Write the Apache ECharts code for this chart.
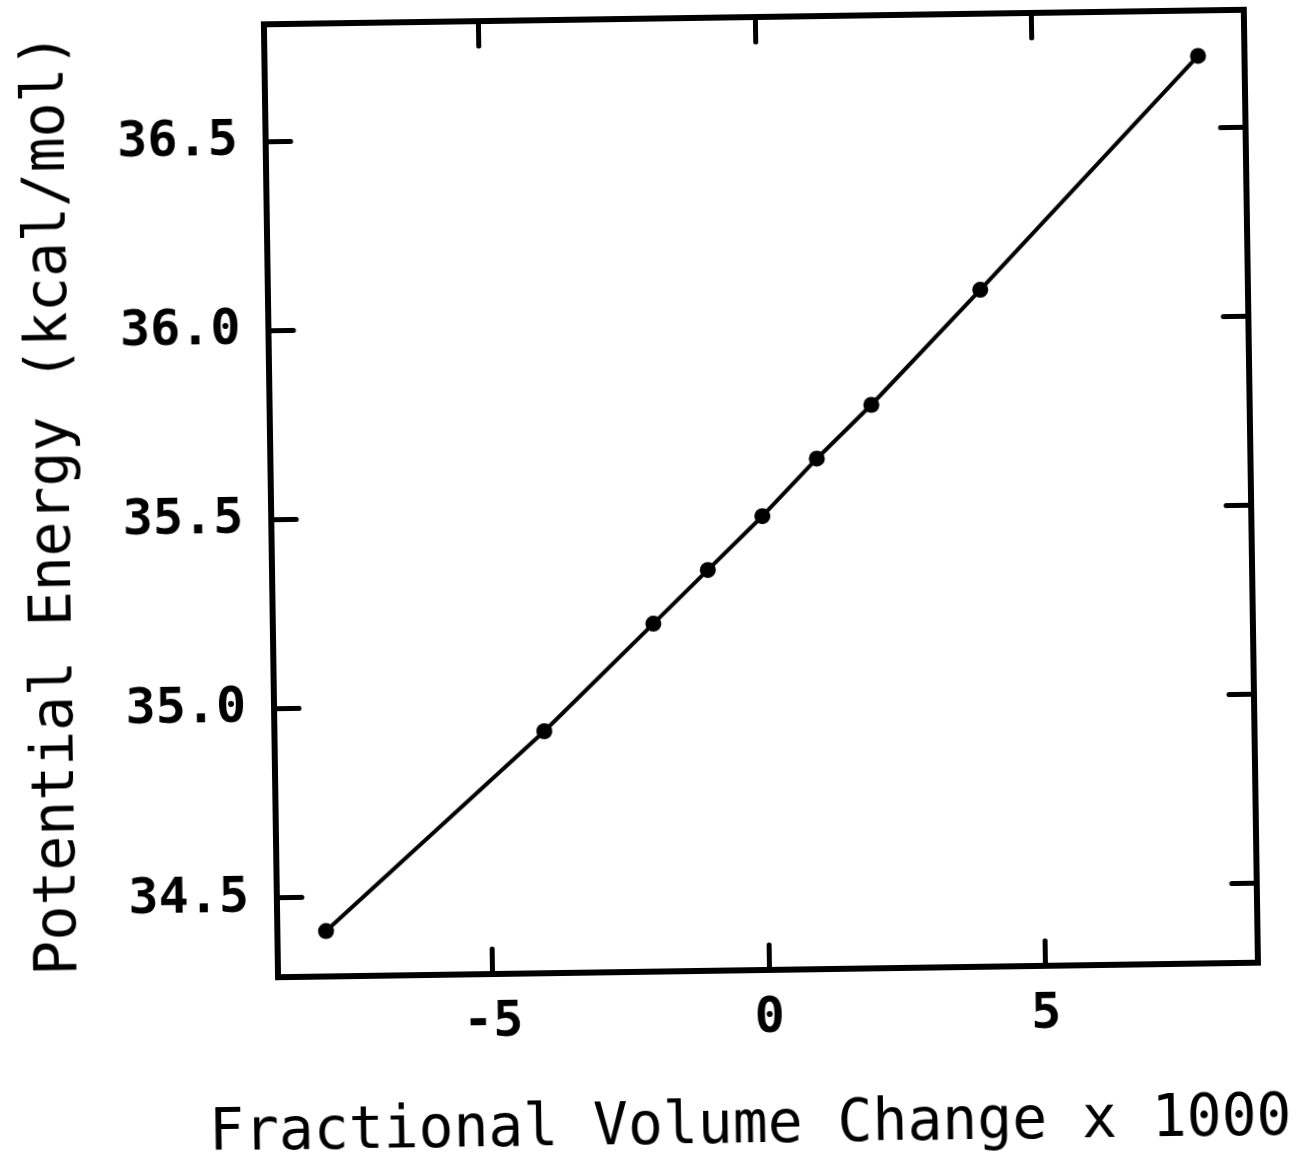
<!DOCTYPE html>
<html>
<head>
<meta charset="utf-8">
<script src="https://cdn.jsdelivr.net/npm/echarts@6/dist/echarts.min.js"></script>
<style>
  html, body { margin: 0; padding: 0; background: #fff; }
  #chart {
    width: 1306px; height: 1161px;
    /* the plotted sheet sits slightly askew */
    transform: rotate(-0.85deg);
    transform-origin: 761px 499px;
  }
</style>
</head>
<body>
<div id="chart"></div>
<script>
// Fractional volume change (x1000) and potential energy (kcal/mol)
const volumeChange = [-8, -4, -2, -1, 0, 1, 2, 4, 8];
const potentialEnergy = [34.41, 34.93, 35.21, 35.35, 35.49, 35.64, 35.78, 36.08, 36.69];
const xTicks = [-5, 0, 5];
const yTicks = [34.5, 35.0, 35.5, 36.0, 36.5];

const FONT = '"DejaVu Sans Mono", monospace';
const INK = '#000';

const points = volumeChange.map((v, i) => [v, potentialEnergy[i]]);

const frameLine = () => ({ show: true, onZero: false, lineStyle: { color: INK, width: 6, cap: 'square' } });
const tickStyle = (values) => ({
  show: true, inside: true, length: 25, customValues: values,
  lineStyle: { color: INK, width: 5, cap: 'round' }
});

const chart = echarts.init(document.getElementById('chart'), null, { renderer: 'canvas' });
chart.setOption({
  animation: false,
  backgroundColor: '#fff',
  grid: { left: 271, top: 17, width: 980, height: 964, containLabel: false },
  xAxis: [
    {
      type: 'value', position: 'bottom', min: -8.88, max: 8.84,
      axisLine: frameLine(), axisTick: tickStyle(xTicks), splitLine: { show: false },
      axisLabel: {
        customValues: xTicks, margin: 24,
        fontFamily: FONT, fontSize: 50, fontWeight: 'bold', color: INK
      },
      name: 'Fractional Volume Change x 1000',
      nameLocation: 'middle', nameGap: 128,
      nameTextStyle: { fontFamily: FONT, fontSize: 58, color: INK, padding: [0, 40, 0, 0] }
    },
    {
      type: 'value', position: 'top', min: -8.88, max: 8.84,
      axisLine: frameLine(), axisTick: tickStyle(xTicks), splitLine: { show: false },
      axisLabel: { show: false }
    }
  ],
  yAxis: [
    {
      type: 'value', position: 'left', min: 34.29, max: 36.81,
      axisLine: frameLine(), axisTick: tickStyle(yTicks), splitLine: { show: false },
      axisLabel: {
        customValues: yTicks, margin: 28,
        formatter: (v) => v.toFixed(1),
        fontFamily: FONT, fontSize: 50, fontWeight: 'bold', color: INK
      },
      name: 'Potential Energy (kcal/mol)',
      nameLocation: 'middle', nameGap: 188,
      nameTextStyle: { fontFamily: FONT, fontSize: 58, color: INK }
    },
    {
      type: 'value', position: 'right', min: 34.29, max: 36.81,
      axisLine: frameLine(), axisTick: tickStyle(yTicks), splitLine: { show: false },
      axisLabel: { show: false }
    }
  ],
  series: [{
    type: 'line',
    data: points,
    symbol: 'circle',
    symbolSize: 16,
    showSymbol: true,
    lineStyle: { color: INK, width: 4 },
    itemStyle: { color: INK },
    silent: true
  }]
});
</script>
</body>
</html>
